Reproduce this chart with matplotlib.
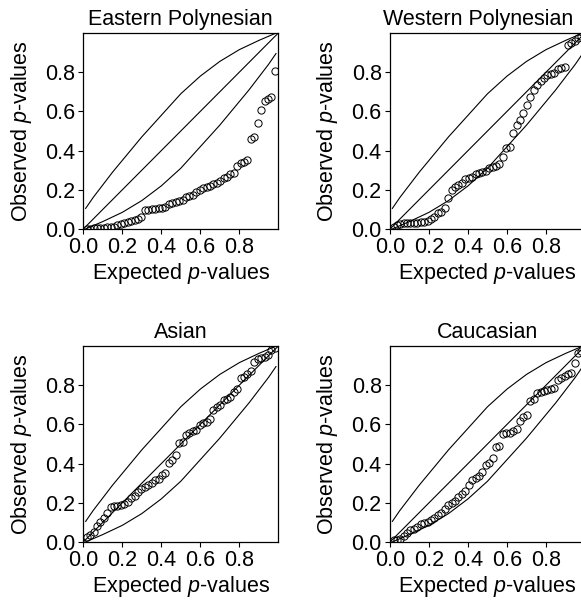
import matplotlib
matplotlib.use("Agg")
import matplotlib.pyplot as plt

plt.rcParams['font.family'] = ['Liberation Sans', 'DejaVu Sans']
plt.rcParams['mathtext.fontset'] = 'custom'
plt.rcParams['mathtext.rm'] = 'Liberation Sans'
plt.rcParams['mathtext.it'] = 'Liberation Sans:italic'

# ---- data ----
titles = ["Eastern Polynesian", "Western Polynesian", "Asian", "Caucasian"]
tick_vals = [0.0, 0.2, 0.4, 0.6, 0.8]
tick_labels = ["0.0", "0.2", "0.4", "0.6", "0.8"]

expected = [0.018, 0.035, 0.053, 0.070, 0.088, 0.105, 0.123, 0.140, 0.158, 0.175,
            0.193, 0.211, 0.228, 0.246, 0.263, 0.281, 0.298, 0.316, 0.333, 0.351,
            0.368, 0.386, 0.404, 0.421, 0.439, 0.456, 0.474, 0.491, 0.509, 0.526,
            0.544, 0.561, 0.579, 0.596, 0.614, 0.632, 0.649, 0.667, 0.684, 0.702,
            0.719, 0.737, 0.754, 0.772, 0.789, 0.807, 0.825, 0.842, 0.860, 0.877,
            0.895, 0.912, 0.930, 0.947, 0.965, 0.982]

obs_eastern = [0.001, 0.002, 0.003, 0.004, 0.005, 0.006, 0.008, 0.010,
               0.012, 0.018, 0.025, 0.030, 0.035, 0.040, 0.045, 0.051, 0.063,
               0.095, 0.098, 0.100, 0.102, 0.105, 0.108, 0.112,
               0.128, 0.134, 0.139, 0.143, 0.148, 0.165, 0.168, 0.173,
               0.190, 0.199, 0.208, 0.216, 0.221, 0.230, 0.236, 0.247, 0.259, 0.267,
               0.281, 0.287, 0.321, 0.335, 0.343, 0.352, 0.458, 0.468,
               0.539, 0.607, 0.653, 0.663, 0.675, 0.808]

obs_western = [0.012, 0.020, 0.025, 0.029, 0.030, 0.031, 0.032, 0.033, 0.035, 0.037,
               0.043, 0.049, 0.063, 0.080, 0.088, 0.105, 0.157, 0.199, 0.216, 0.224,
               0.233, 0.253, 0.259, 0.267, 0.281, 0.284, 0.292, 0.298, 0.310, 0.318,
               0.323, 0.332, 0.366, 0.415, 0.420, 0.491, 0.531, 0.556, 0.590, 0.633,
               0.675, 0.709, 0.735, 0.757, 0.769, 0.786, 0.791, 0.794, 0.815, 0.820,
               0.826, 0.939, 0.951, 0.961, 0.973, 0.985]

obs_asian = [0.025, 0.035, 0.050, 0.080, 0.100, 0.120, 0.150, 0.178, 0.182, 0.185,
             0.188, 0.192, 0.205, 0.225, 0.235, 0.255, 0.270, 0.282, 0.291, 0.299,
             0.316, 0.320, 0.342, 0.354, 0.401, 0.418, 0.444, 0.503, 0.512, 0.546,
             0.558, 0.568, 0.571, 0.597, 0.605, 0.614, 0.626, 0.673, 0.687, 0.700,
             0.724, 0.728, 0.740, 0.767, 0.779, 0.835, 0.843, 0.857, 0.874, 0.920,
             0.932, 0.937, 0.942, 0.954, 0.980, 0.988]

obs_caucasian = [0.010, 0.012, 0.015, 0.030, 0.045, 0.060, 0.068, 0.075, 0.090, 0.095,
                 0.100, 0.110, 0.125, 0.140, 0.150, 0.170, 0.190, 0.200, 0.210, 0.228,
                 0.245, 0.262, 0.290, 0.316, 0.325, 0.337, 0.359, 0.393, 0.401, 0.427,
                 0.486, 0.490, 0.551, 0.554, 0.558, 0.568, 0.575, 0.619, 0.636, 0.648,
                 0.720, 0.728, 0.759, 0.767, 0.772, 0.776, 0.779, 0.784, 0.827, 0.835,
                 0.847, 0.857, 0.861, 0.915, 0.963, 0.975]

upper_x = [0.012, 0.05, 0.1, 0.15, 0.2, 0.25, 0.3, 0.4, 0.5, 0.6, 0.7, 0.8, 0.9, 0.988]
upper_y = [0.105, 0.16, 0.225, 0.29, 0.35, 0.41, 0.47, 0.58, 0.69, 0.78, 0.855, 0.915, 0.962, 0.9995]
lower_x = [0.012, 0.1, 0.2, 0.3, 0.4, 0.5, 0.6, 0.7, 0.75, 0.8, 0.85, 0.9, 0.95, 0.988]
lower_y = [0.0005, 0.038, 0.085, 0.145, 0.22, 0.31, 0.42, 0.53, 0.59, 0.65, 0.71, 0.775, 0.84, 0.895]
diag = [0.0, 1.0]

observed = [obs_eastern, obs_western, obs_asian, obs_caucasian]

# ---- layout ----
W, H = 581, 603
fig = plt.figure(figsize=(W / 100, H / 100), dpi=100)
aw, ah = 195 / W, 196 / H
lefts = [83.3 / W, 390 / W]
bottoms = [1 - 229 / H, 1 - 542 / H]
FS = 15.5

for k, (title, obs) in enumerate(zip(titles, observed)):
    r, c = divmod(k, 2)
    ax = fig.add_axes([lefts[c], bottoms[r], aw, ah])
    ax.plot(diag, diag, color='black', lw=0.8)
    ax.plot(upper_x, upper_y, color='black', lw=0.8)
    ax.plot(lower_x, lower_y, color='black', lw=0.8)
    ax.plot(expected, obs, linestyle='none', marker='o', markersize=5.2,
            markerfacecolor='none', markeredgecolor='black', markeredgewidth=0.7)
    ax.set_xlim(0, 1)
    ax.set_ylim(0, 1)
    ax.set_xticks(tick_vals)
    ax.set_xticklabels(tick_labels)
    ax.set_yticks(tick_vals)
    ax.set_yticklabels(tick_labels)
    ax.tick_params(direction='out', length=3.5, width=0.8, pad=2.5,
                   labelsize=FS, colors='black')
    for s in ax.spines.values():
        s.set_linewidth(0.9)
    t = ax.set_title(title, fontsize=FS, pad=5.5)
    if k == 1:
        # keep the long title inside the picture, as in the reference
        t.set_x(0.45)
    ax.set_xlabel("Expected $p$-values", fontsize=FS, labelpad=2)
    ax.set_ylabel("Observed $p$-values", fontsize=FS, labelpad=8)

fig.savefig("out.png", dpi=100)
